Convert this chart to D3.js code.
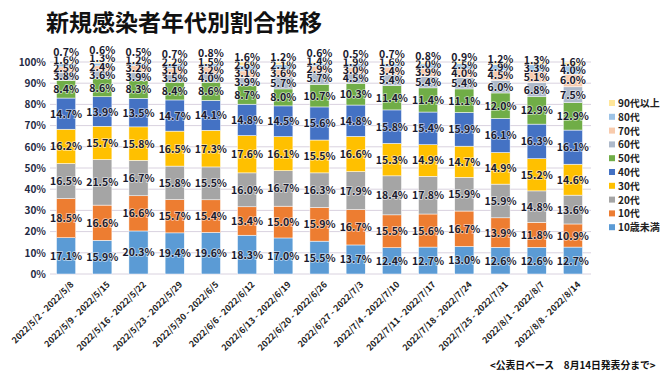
<!DOCTYPE html>
<html>
<head>
<meta charset="utf-8">
<script src="https://cdn.jsdelivr.net/npm/d3@7"></script>
<style>
body { margin: 0; background: #fff; }
svg { font-family: "Noto Sans CJK JP", "Noto Sans", sans-serif; }
.lbl { font-size: 10.5px; font-weight: bold; fill: #1a1a2e; paint-order: stroke; stroke: #fff; stroke-width: 1.5px; stroke-opacity: 0.6; }
</style>
</head>
<body>
<svg width="660" height="381"></svg>
<script>
var weeks = ["2022/5/2 - 2022/5/8", "2022/5/9 - 2022/5/15", "2022/5/16 - 2022/5/22", "2022/5/23 - 2022/5/29",
  "2022/5/30 - 2022/6/5", "2022/6/6 - 2022/6/12", "2022/6/13 - 2022/6/19", "2022/6/20 - 2022/6/26",
  "2022/6/27 - 2022/7/3", "2022/7/4 - 2022/7/10", "2022/7/11 - 2022/7/17", "2022/7/18 - 2022/7/24",
  "2022/7/25 - 2022/7/31", "2022/8/1 - 2022/8/7", "2022/8/8 - 2022/8/14"];

var ages = ["10歳未満", "10代", "20代", "30代", "40代", "50代", "60代", "70代", "80代", "90代以上"];
var colors = ["#5b9bd5", "#ed7d31", "#a5a5a5", "#ffc000", "#4472c4", "#70ad47", "#adb9ca", "#f8cbad", "#9dc3e6", "#ffe699"];

var under10 = [17.1, 15.9, 20.3, 19.4, 19.6, 18.3, 17.0, 15.5, 13.7, 12.4, 12.7, 13.0, 12.6, 12.6, 12.7];
var teens   = [18.5, 16.6, 16.6, 15.7, 15.4, 13.4, 15.0, 15.9, 16.7, 15.5, 15.6, 16.7, 13.9, 11.8, 10.9];
var age20   = [16.5, 21.5, 16.7, 15.8, 15.5, 16.0, 16.7, 16.3, 17.9, 18.4, 17.8, 15.9, 15.9, 14.8, 13.6];
var age30   = [16.2, 15.7, 15.8, 16.5, 17.3, 17.6, 16.1, 15.5, 16.6, 15.3, 14.9, 14.7, 14.9, 15.2, 14.6];
var age40   = [14.7, 13.9, 13.5, 14.7, 14.1, 14.8, 14.5, 15.6, 14.8, 15.8, 15.4, 15.9, 16.1, 16.3, 16.1];
var age50   = [8.4, 8.6, 8.3, 8.4, 8.6, 8.7, 8.0, 10.7, 10.3, 11.4, 11.4, 11.1, 12.0, 12.9, 12.9];
var age60   = [3.8, 3.6, 3.9, 3.5, 4.0, 3.9, 5.7, 5.7, 4.5, 5.4, 5.4, 5.4, 6.0, 6.8, 7.5];
var age70   = [2.5, 2.4, 3.2, 3.1, 3.2, 3.1, 3.6, 2.9, 3.0, 3.4, 3.9, 4.0, 4.5, 5.1, 6.0];
var age80   = [1.6, 1.3, 1.2, 2.2, 1.5, 2.6, 2.1, 1.4, 1.9, 1.6, 2.0, 2.5, 2.9, 3.3, 4.0];
var age90   = [0.7, 0.6, 0.5, 0.7, 0.8, 1.6, 1.2, 0.6, 0.5, 0.7, 0.8, 0.9, 1.2, 1.3, 1.6];

var series = [under10, teens, age20, age30, age40, age50, age60, age70, age80, age90];
var yTicks = [0, 10, 20, 30, 40, 50, 60, 70, 80, 90, 100];

var svg = d3.select("svg");

var data = weeks.map(function(w, i) {
  var row = { week: w };
  ages.forEach(function(a, k) { row[a] = series[k][i]; });
  return row;
});

var x = d3.scaleBand().domain(weeks).range([48, 591]).paddingInner(0.47).paddingOuter(0.235);
var y = d3.scaleLinear().domain([0, 100]).range([274, 62]);

svg.append("text")
  .attr("x", 46).attr("y", 31)
  .style("font-size", "23px").style("font-weight", "bold").style("fill", "#111")
  .text("新規感染者年代別割合推移");

// grid
svg.append("g").selectAll("line").data(yTicks).enter().append("line")
  .attr("x1", 50).attr("x2", 591)
  .attr("y1", function(d) { return y(d); }).attr("y2", function(d) { return y(d); })
  .attr("stroke", "#d9d2df").attr("stroke-width", 1);

var yAxis = svg.append("g").attr("transform", "translate(46,0)")
  .call(d3.axisLeft(y).tickValues(yTicks).tickSize(0).tickFormat(function(d) { return d + "%"; }));
yAxis.select(".domain").remove();
yAxis.selectAll("text").style("font-size", "10px").style("font-weight", "bold").style("fill", "#1f2a44")
  .attr("x", 0).style("font-family", "'Noto Sans CJK JP', sans-serif");

var stack = d3.stack().keys(ages)(data);

var layers = svg.append("g").selectAll("g").data(stack).enter().append("g")
  .attr("fill", function(d, k) { return colors[k]; });

layers.selectAll("rect").data(function(d) { return d; }).enter().append("rect")
  .attr("x", function(d) { return x(d.data.week); })
  .attr("width", x.bandwidth())
  .attr("y", function(d) { return y(d[1]); })
  .attr("height", function(d) { return y(d[0]) - y(d[1]); })
  .attr("stroke", "#fff").attr("stroke-width", 0.5);

// labels, nudged upward when they would overlap
var labels = [];
weeks.forEach(function(w, i) {
  var prev = null;
  stack.forEach(function(layer, k) {
    var d = layer[i];
    var py = y((d[0] + d[1]) / 2) + 4;
    if (prev !== null && py > prev - 8.2) py = prev - 8.2;
    prev = py;
    labels.push({ x: x(w) + x.bandwidth() / 2, y: py, t: series[k][i].toFixed(1) + "%" });
  });
});

svg.append("g").selectAll("text").data(labels).enter().append("text")
  .attr("class", "lbl")
  .attr("x", function(d) { return d.x; })
  .attr("y", function(d) { return d.y; })
  .attr("text-anchor", "middle")
  .text(function(d) { return d.t; });

// x axis labels
var xAxis = svg.append("g").attr("transform", "translate(0,274)")
  .call(d3.axisBottom(x).tickSize(0));
xAxis.select(".domain").remove();
xAxis.selectAll("text")
  .attr("transform", "translate(6,9) rotate(-45)")
  .attr("text-anchor", "end").attr("dy", "0.35em").attr("y", 0)
  .style("font-size", "8.8px").style("font-weight", "bold").style("fill", "#222")
  .style("font-family", "'Noto Sans CJK JP', sans-serif");

// legend
var legend = svg.append("g").selectAll("g").data(ages.slice().reverse()).enter().append("g")
  .attr("transform", function(d, i) { return "translate(609," + (103 + i * 13.8) + ")"; });
legend.append("rect").attr("x", 0).attr("y", -3).attr("width", 6).attr("height", 6)
  .attr("fill", function(d) { return colors[ages.indexOf(d)]; });
legend.append("text").attr("x", 9).attr("y", 4)
  .style("font-size", "10px").style("font-weight", "bold").style("fill", "#222")
  .text(function(d) { return d; });

svg.append("text")
  .attr("x", 490).attr("y", 369)
  .style("font-size", "9.8px").style("font-weight", "bold").style("fill", "#111")
  .text("<公表日ベース　8月14日発表分まで>");
</script>
</body>
</html>
